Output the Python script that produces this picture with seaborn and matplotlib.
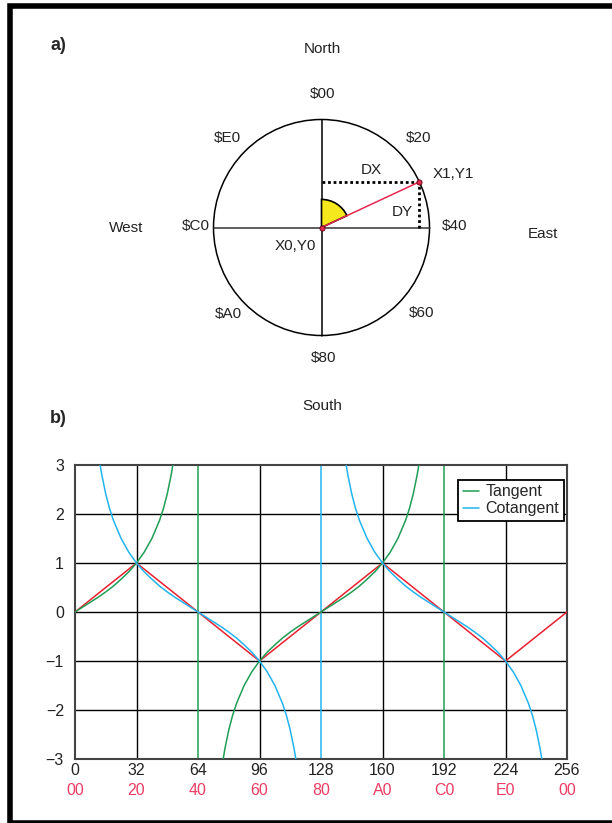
import numpy as np
import pandas as pd
import matplotlib
matplotlib.use("Agg")
import matplotlib.pyplot as plt
from matplotlib.patches import Circle, Wedge, Rectangle
import seaborn as sns

sns.set_theme(style="white")
plt.rcParams['font.family'] = ['Liberation Sans', 'DejaVu Sans']

# ---------------- datos ----------------
# panel a: rumbo del punto X1,Y1 medido desde el norte (grados)
heading_deg = 65
compass_text = ['North', '$00', '$20', '$E0', 'West', '$C0',
                '$40', 'East', '$A0', '$60', '$80', 'South']
point_text = ['X0,Y0', 'X1,Y1', 'DX', 'DY']

# panel b: eje x en unidades binarias (256 = vuelta completa)
x_ticks = [0, 32, 64, 96, 128, 160, 192, 224, 256]
hex_labels = ['00', '20', '40', '60', '80', 'A0', 'C0', 'E0', '00']
y_ticks = [-3, -2, -1, 0, 1, 2, 3]

# aproximacion lineal (rojo)
approx_x = [0, 32, 64, 96, 128, 160, 192, 224, 256]
approx_y = [0, 1, 0, -1, 0, 1, 0, -1, 0]

# tangente, tramo 1 y tramo 2
tan1_x = [0, 4, 8, 12, 16, 20, 24, 28, 32, 36, 40, 44, 46, 48, 50, 50.9]
tan1_y = [0, 0.10, 0.20, 0.30, 0.41, 0.53, 0.67, 0.82, 1.00, 1.22, 1.50,
          1.87, 2.11, 2.41, 2.79, 3.00]
tan2_x = [77.1, 78, 80, 82, 84, 88, 92, 96, 100, 104, 108, 112, 116, 120,
          124, 128, 132, 136, 140, 144, 148, 152, 156, 160, 164, 168, 172,
          174, 176, 178, 178.9]
tan2_y = [-3, -2.79, -2.41, -2.11, -1.87, -1.50, -1.22, -1, -0.82, -0.67,
          -0.53, -0.41, -0.30, -0.20, -0.10, 0, 0.10, 0.20, 0.30, 0.41, 0.53,
          0.67, 0.82, 1, 1.22, 1.50, 1.87, 2.11, 2.41, 2.79, 3]

# cotangente, tramo 1 y tramo 2
cot1_x = [13.1, 14, 16, 18, 20, 24, 28, 32, 36, 40, 44, 48, 52, 56, 60, 64,
          68, 72, 76, 80, 84, 88, 92, 96, 100, 104, 108, 110, 112, 114, 114.9]
cot1_y = [3, 2.79, 2.41, 2.11, 1.87, 1.50, 1.22, 1, 0.82, 0.67, 0.53, 0.41,
          0.30, 0.20, 0.10, 0, -0.10, -0.20, -0.30, -0.41, -0.53, -0.67,
          -0.82, -1, -1.22, -1.50, -1.87, -2.11, -2.41, -2.79, -3]
cot2_x = [141.1, 142, 144, 146, 148, 152, 156, 160, 164, 168, 172, 176, 180,
          184, 188, 192, 196, 200, 204, 208, 212, 216, 220, 224, 228, 232,
          236, 238, 240, 242, 242.9]
cot2_y = [3, 2.79, 2.41, 2.11, 1.87, 1.50, 1.22, 1, 0.82, 0.67, 0.53, 0.41,
          0.30, 0.20, 0.10, 0, -0.10, -0.20, -0.30, -0.41, -0.53, -0.67,
          -0.82, -1, -1.22, -1.50, -1.87, -2.11, -2.41, -2.79, -3]

# asintotas verticales
tan_asym = [64, 192]
cot_asym = [128]
black_grid_x = [32, 96, 160, 224]

GREEN = '#1f9e55'
BLUE = '#22b4ee'
RED = '#e8202e'
PINK = '#ec3c64'

fig = plt.figure(figsize=(6.12, 8.23), dpi=100)
W, H = 612, 823

# marco negro (el lado derecho queda fuera de la imagen)
fig.patches.append(Rectangle((10 / W, 0), 650 / W, (H - 5.5) / H,
                             transform=fig.transFigure, fill=False,
                             edgecolor='black', lw=4.0))

# ---------------- panel a ----------------
ax_a = fig.add_axes([0, 0.5, 1, 0.5])
ax_a.set_xlim(-321.5 / 108, (W - 321.5) / 108)
ax_a.set_ylim(-(411.5 - 227.5) / 108, 227.5 / 108)
ax_a.axis('off')

ax_a.add_patch(Circle((0, 0), 1, fill=False, edgecolor='black', lw=1.1))
ax_a.plot([-1, 1], [0, 0], color='#333333', lw=1.1)
ax_a.plot([0, 0], [-1, 1], color='black', lw=1.1)

ang = np.deg2rad(90 - heading_deg)
x1, y1 = np.cos(ang), np.sin(ang)
ax_a.add_patch(Wedge((0, 0), 0.26, 90 - heading_deg, 90, facecolor='#f5e81c',
                     edgecolor='black', lw=1.2, zorder=2))
ax_a.plot([0, x1], [y1, y1], color='black', lw=2, ls=(0, (1, 1)), zorder=3)
ax_a.plot([x1, x1], [0, y1], color='black', lw=2, ls=(0, (1, 1)), zorder=3)
ax_a.plot([0, x1], [0, y1], color='#e62850', lw=1.1, zorder=4)
ax_a.scatter([0, x1], [0, y1], s=14, color='#e62850', edgecolor='#5a0010',
             lw=0.6, zorder=5)

compass_pos = [(0.01, 1.65), (0.01, 1.24), (0.90, 0.83), (-0.87, 0.83),
               (-1.81, 0.0), (-1.16, 0.01), (1.23, 0.01), (2.05, -0.06),
               (-0.86, -0.80), (0.93, -0.79), (0.02, -1.21), (0.01, -1.65)]
for t, (px, py) in zip(compass_text, compass_pos):
    ax_a.text(px, py, t, ha='center', va='center', fontsize=11, color='#222222')
point_pos = [(-0.24, -0.17), (1.22, 0.50), (0.46, 0.53), (0.75, 0.14)]
for t, (px, py) in zip(point_text, point_pos):
    ax_a.text(px, py, t, ha='center', va='center', fontsize=11, color='#222222')

for lab, py in [('a)', 46), ('b)', 418)]:
    fig.text(58 / W, 1 - py / H, lab, fontsize=13, fontweight='bold',
             ha='center', va='center',
             family=['Liberation Sans Narrow', 'Liberation Sans'])

# ---------------- panel b ----------------
ax = fig.add_axes([75 / W, 1 - 759 / H, 492 / W, 294 / H])
ax.set_xlim(0, 256)
ax.set_ylim(-3, 3)

for v in black_grid_x:
    ax.axvline(v, color='black', lw=1.0, zorder=1)
for v in [-2, -1, 0, 1, 2]:
    ax.axhline(v, color='black', lw=1.0, zorder=1)
for v in tan_asym:
    ax.axvline(v, color=GREEN, lw=1.1, zorder=2)
for v in cot_asym:
    ax.axvline(v, color=BLUE, lw=1.1, zorder=2)

sns.lineplot(x=approx_x, y=approx_y, color=RED, lw=1.1, ax=ax, zorder=3)
sns.lineplot(x=tan1_x, y=tan1_y, color=GREEN, lw=1.1, ax=ax, zorder=3,
             label='Tangent')
sns.lineplot(x=tan2_x, y=tan2_y, color=GREEN, lw=1.1, ax=ax, zorder=3)
sns.lineplot(x=cot1_x, y=cot1_y, color=BLUE, lw=1.1, ax=ax, zorder=3,
             label='Cotangent')
sns.lineplot(x=cot2_x, y=cot2_y, color=BLUE, lw=1.1, ax=ax, zorder=3)

ax.set_xticks(x_ticks)
ax.set_xticklabels([str(v) for v in x_ticks])
ax.set_yticks(y_ticks)
ax.set_yticklabels([str(v).replace('-', '\u2212') for v in y_ticks])
ax.tick_params(axis='both', length=0, labelsize=11.5, labelcolor='#222222')
ax.tick_params(axis='x', pad=3)
ax.tick_params(axis='y', pad=8)
for v, h in zip(x_ticks, hex_labels):
    ax.annotate(h, xy=(v, 0), xycoords=('data', 'axes fraction'),
                xytext=(0, -22.5), textcoords='offset points',
                ha='center', va='center', fontsize=11.5, color=PINK)
for s in ax.spines.values():
    s.set_color('#444444')
    s.set_linewidth(1.5)
ax.set_xlabel('')
ax.set_ylabel('')

leg = ax.legend(loc='upper right', bbox_to_anchor=(0.994, 0.95),
                borderaxespad=0, fontsize=11.5, handlelength=1.0,
                handletextpad=0.4, borderpad=0.3, labelspacing=0.12,
                fancybox=False, framealpha=1)
leg.get_frame().set_edgecolor('black')
leg.get_frame().set_linewidth(1.3)

fig.savefig('out.png', dpi=100)
